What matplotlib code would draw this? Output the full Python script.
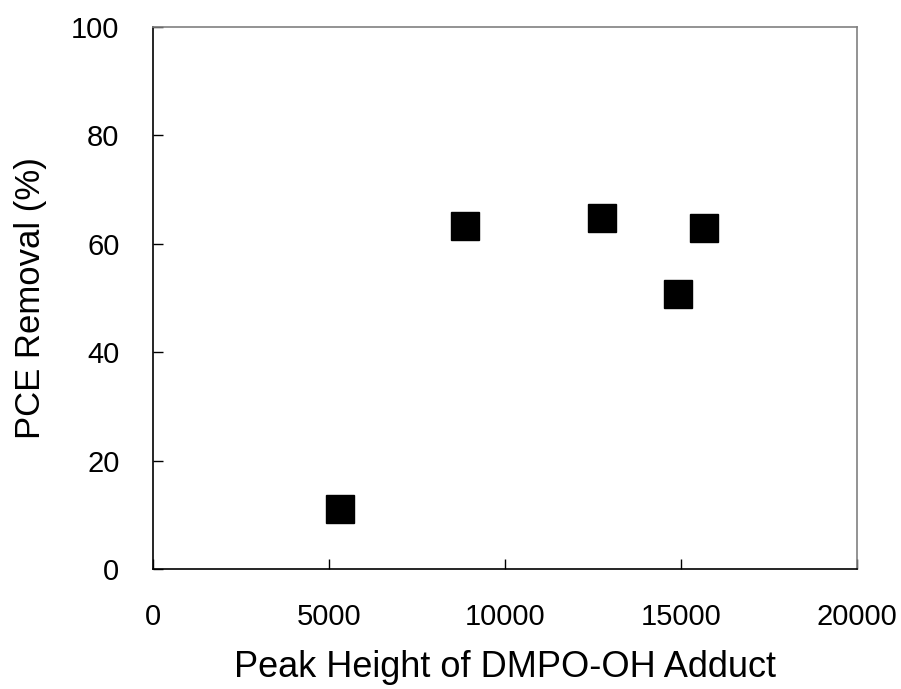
import matplotlib
matplotlib.use('Agg')
import matplotlib.pyplot as plt

# values
peak_height = [5320, 8860, 12770, 14930, 15670]
pce_removal = [11.2, 63.2, 64.7, 50.7, 62.9]

x_ticks = [0, 5000, 10000, 15000, 20000]
y_ticks = [0, 20, 40, 60, 80, 100]

plt.rcParams['font.family'] = ['Liberation Sans', 'DejaVu Sans']

fig = plt.figure(figsize=(9.01, 6.89), dpi=100)
ax = fig.add_axes([0.1695, 0.1737, 0.7813, 0.7873])

ax.plot(peak_height, pce_removal, linestyle='none', marker='s',
        markersize=20, color='black')

ax.set_xlim(0, 20000)
ax.set_ylim(0, 100)
ax.set_xticks(x_ticks)
ax.set_yticks(y_ticks)
ax.tick_params(direction='in', length=7, width=1, labelsize=21, pad=24,
               top=False, right=False)

for s in ['top', 'right']:
    ax.spines[s].set_color('#808080')
for s in ax.spines.values():
    s.set_linewidth(1.2)

ax.set_xlabel('Peak Height of DMPO-OH Adduct', fontsize=26, labelpad=14)
ax.set_ylabel('PCE Removal (%)', fontsize=25, labelpad=17)

fig.savefig('out.png', dpi=100)
